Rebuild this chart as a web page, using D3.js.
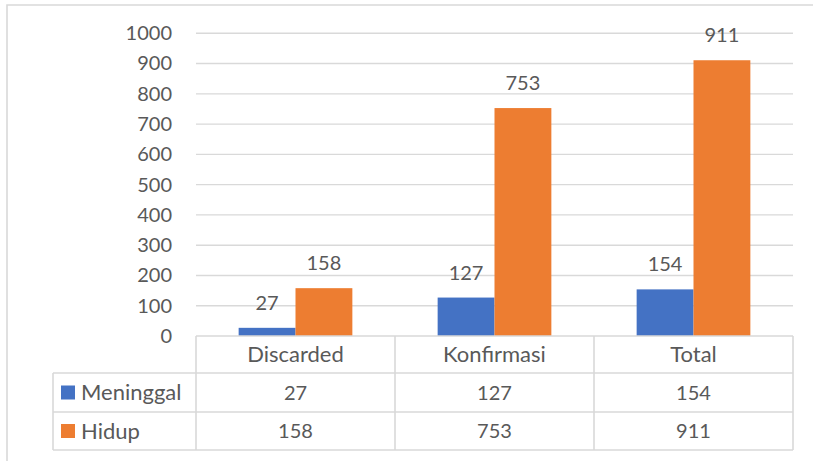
<!DOCTYPE html>
<html>
<head>
<meta charset="utf-8">
<script src="https://cdn.jsdelivr.net/npm/d3@7"></script>
<style>
  body { margin: 0; background: #fff; }
  svg text { font-family: Lato, "Open Sans", sans-serif; fill: #595959; }
</style>
</head>
<body>
<div id="chart"></div>
<script>
// chart data
const categories = ['Discarded', 'Konfirmasi', 'Total'];
const seriesNames = ['Meninggal', 'Hidup'];
const meninggal = [27, 127, 154];
const hidup = [158, 753, 911];
const yTicks = [0, 100, 200, 300, 400, 500, 600, 700, 800, 900, 1000];
const seriesColors = ['#4472C4', '#ED7D31'];

const seriesValues = [meninggal, hidup];
const width = 813, height = 461;
const gridColor = '#d9d9d9';
const fontSize = 20;      // numbers
const labelSize = 22;     // words in the table (Calibri is narrower than Lato for digits only)

const svg = d3.select('#chart')
    .append('svg')
    .attr('width', width)
    .attr('height', height);

// Outer chart border (only top and left are visible in the crop)
svg.append('path')
    .attr('d', `M7,461 V5 H813`)
    .attr('fill', 'none')
    .attr('stroke', '#d9d9d9')
    .attr('stroke-width', 1.6);

// Scales
const x = d3.scaleBand()
    .domain(categories)
    .range([196, 793])
    .paddingInner(0)
    .paddingOuter(0);

const xInner = d3.scaleBand()
    .domain(seriesNames)
    .range([0, x.bandwidth()])
    .paddingInner(0)
    .paddingOuter(0.75);

const y = d3.scaleLinear()
    .domain([0, 1000])
    .range([336, 33.3]);

// Gridlines
svg.append('g')
    .attr('class', 'grid')
    .selectAll('line')
    .data(yTicks.filter(d => d > 0))
    .join('line')
    .attr('x1', x.range()[0])
    .attr('x2', x.range()[1])
    .attr('y1', d => y(d))
    .attr('y2', d => y(d))
    .attr('stroke', gridColor)
    .attr('stroke-width', 1.4);

// Y axis labels
const yAxis = d3.axisLeft(y)
    .tickValues(yTicks)
    .tickSize(0)
    .tickPadding(0)
    .tickFormat(d3.format('d'));

const yAxisG = svg.append('g')
    .attr('transform', 'translate(172,0)')
    .call(yAxis);
yAxisG.select('.domain').remove();
yAxisG.selectAll('text')
    .style('font-size', `${fontSize}px`)
    .style('font-family', 'Lato, sans-serif')
    .attr('fill', '#595959');

// Bars
const groups = svg.append('g')
    .attr('class', 'bars')
    .selectAll('g')
    .data(categories)
    .join('g')
    .attr('transform', d => `translate(${x(d)},0)`);

groups.selectAll('rect')
    .data((c, ci) => seriesNames.map((s, si) => ({ series: s, si, value: seriesValues[si][ci] })))
    .join('rect')
    .attr('x', d => xInner(d.series))
    .attr('width', xInner.bandwidth())
    .attr('y', d => y(d.value))
    .attr('height', d => y(0) - y(d.value))
    .attr('fill', d => seriesColors[d.si]);

// Data labels above bars
groups.selectAll('text')
    .data((c, ci) => seriesNames.map((s, si) => ({ series: s, si, value: seriesValues[si][ci] })))
    .join('text')
    .attr('x', d => xInner(d.series) + xInner.bandwidth() / 2)
    .attr('y', d => y(d.value) - 18)
    .attr('text-anchor', 'middle')
    .style('font-size', `${fontSize}px`)
    .text(d => d.value);

// Data table
const rowTop = [336, 373, 412];
const rowBottom = 450;
const tableLeft = 53;
const table = svg.append('g').attr('class', 'data-table');

const lineStyle = sel => sel.attr('stroke', gridColor).attr('stroke-width', 1.6).attr('fill', 'none');

// horizontal lines
table.append('line').attr('x1', x.range()[0]).attr('x2', x.range()[1])
    .attr('y1', rowTop[0]).attr('y2', rowTop[0]).call(lineStyle);
[rowTop[1], rowTop[2], rowBottom].forEach(yy => {
    table.append('line').attr('x1', tableLeft).attr('x2', x.range()[1])
        .attr('y1', yy).attr('y2', yy).call(lineStyle);
});
// vertical lines
table.append('line').attr('x1', tableLeft).attr('x2', tableLeft)
    .attr('y1', rowTop[1]).attr('y2', rowBottom).call(lineStyle);
categories.forEach(c => {
    table.append('line').attr('x1', x(c)).attr('x2', x(c))
        .attr('y1', rowTop[0]).attr('y2', rowBottom).call(lineStyle);
});
table.append('line').attr('x1', x.range()[1]).attr('x2', x.range()[1])
    .attr('y1', rowTop[0]).attr('y2', rowBottom).call(lineStyle);

// header row: category names
table.selectAll('text.cat')
    .data(categories)
    .join('text')
    .attr('class', 'cat')
    .attr('x', d => x(d) + x.bandwidth() / 2)
    .attr('y', (rowTop[0] + rowTop[1]) / 2)
    .attr('dy', '0.35em')
    .attr('text-anchor', 'middle')
    .style('font-size', `${labelSize}px`)
    .text(d => d);

// series rows
const rowBounds = [[rowTop[1], rowTop[2]], [rowTop[2], rowBottom]];
seriesNames.forEach((s, si) => {
    const cy = (rowBounds[si][0] + rowBounds[si][1]) / 2;
    table.append('rect')
        .attr('x', 61)
        .attr('y', cy - 7)
        .attr('width', 14)
        .attr('height', 14)
        .attr('fill', seriesColors[si]);
    table.append('text')
        .attr('x', 81)
        .attr('y', cy)
        .attr('dy', '0.35em')
        .style('font-size', `${labelSize}px`)
        .text(s);
    table.selectAll(`text.v${si}`)
        .data(seriesValues[si])
        .join('text')
        .attr('class', `v${si}`)
        .attr('x', (d, i) => x(categories[i]) + x.bandwidth() / 2)
        .attr('y', cy)
        .attr('dy', '0.35em')
        .attr('text-anchor', 'middle')
        .style('font-size', `${fontSize}px`)
        .text(d => d);
});
</script>
</body>
</html>
